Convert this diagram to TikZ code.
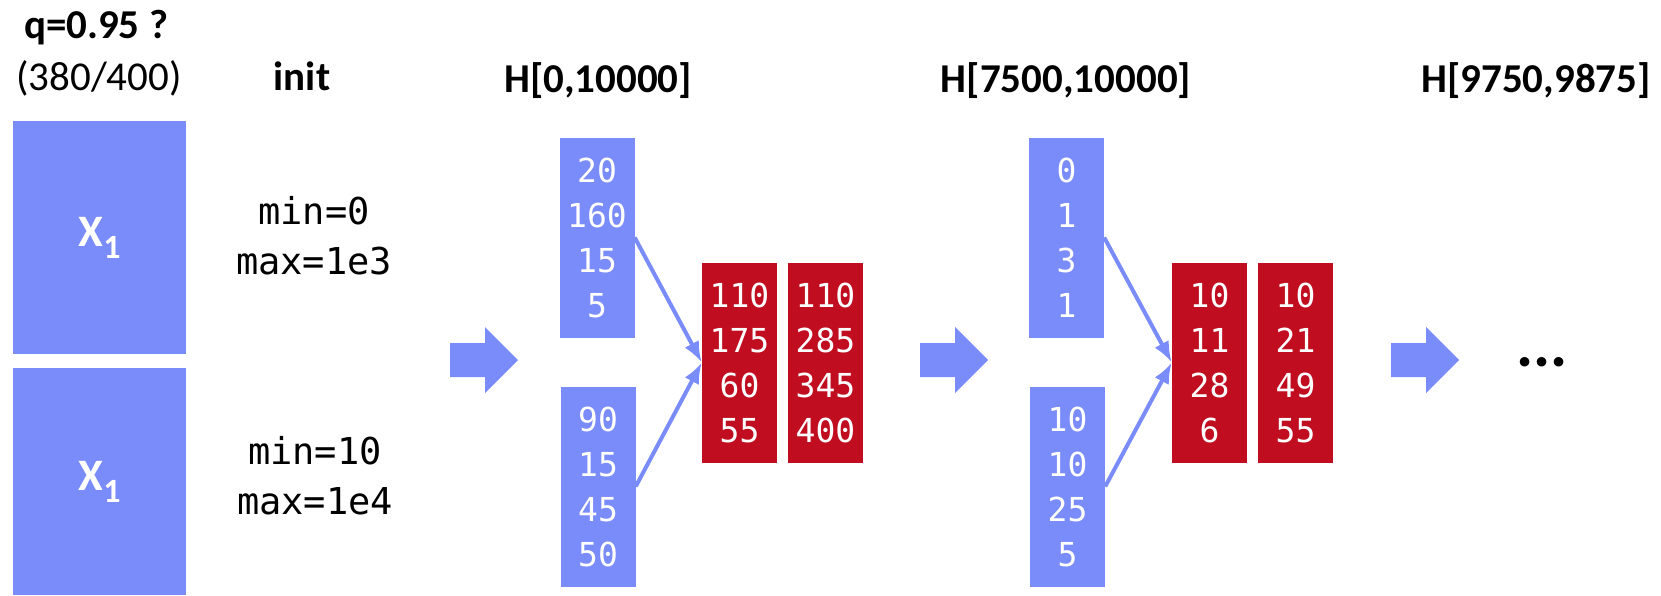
\documentclass[tikz,border=0pt]{standalone}
\usepackage{fontspec}
\setmainfont{Carlito}
\newfontfamily\codefont[RawFeature=+zero]{DejaVu Sans Mono}
\usetikzlibrary{arrows.meta}
\definecolor{cellblue}{RGB}{122,139,250}
\definecolor{cellred}{RGB}{192,14,32}

\begin{document}
\begin{tikzpicture}[x=1pt,y=-1pt,>={Latex[length=21pt,width=16pt]},
  colhead/.style={font=\bfseries\fontsize{41}{49}\selectfont,anchor=base,inner sep=0},
  feat/.style={fill=cellblue,text=white,minimum width=173pt,inner sep=0,
    font=\bfseries\fontsize{45}{45}\selectfont},
  limits/.style={align=center,inner sep=0,font=\codefont\fontsize{37}{50}\selectfont},
  bin/.style={fill=cellblue,text=white,minimum width=75pt,minimum height=200pt,
    inner sep=0,align=center,font=\codefont\fontsize{33}{45}\selectfont},
  cum/.style={bin,fill=cellred},
  merge/.style={->,cellblue,line width=4pt}]
\useasboundingbox (0,0) rectangle (1661,595);

% column headers
\node[colhead] (qtitle) at (96,38) {q=0.95 ?};
\node[colhead,font=\fontsize{41}{49}\selectfont] (qrank) at (99,90) {(380/400)};
\node[colhead] (init) at (302,90) {init};
\node[colhead] (h1) at (598,92) {H[0,10000]};
\node[colhead] (h2) at (1066,92) {H[7500,10000]};
\node[colhead] (h3) at (1536,92) {H[9750,9875]};

% the two feature blocks and their ranges
\node[feat,minimum height=233pt] (xa) at (99.5,237.5) {X\raisebox{-12pt}{\fontsize{34}{34}\selectfont 1}};
\node[feat,minimum height=227pt] (xb) at (99.5,481.5) {X\raisebox{-12pt}{\fontsize{34}{34}\selectfont 1}};
\node[limits] (ra) at (314,236) {min=0\\max=1e3};
\node[limits] (rb) at (315,476) {min=10\\max=1e4};

% big arrows between the rounds
\foreach \ax in {450,920,1391}
  \fill[cellblue,shift={(\ax,0)}] (0,343) -- (35,343) -- (35,327) -- (68,360)
    -- (35,393) -- (35,377) -- (0,377) -- cycle;

% round 1
\node[bin] (hi1) at (597,237.5) {20\\160\\15\\5};
\node[bin] (lo1) at (598,486.5) {90\\15\\45\\50};
\node[cum] (sum1) at (739.5,362.5) {110\\175\\60\\55};
\node[cum] (acc1) at (825.5,362.5) {110\\285\\345\\400};
\draw[merge] (hi1.east) -- (sum1.west);
\draw[merge] (lo1.east) -- (sum1.west);

% round 2
\node[bin] (hi2) at (1066.5,237.5) {0\\1\\3\\1};
\node[bin] (lo2) at (1067.5,486.5) {10\\10\\25\\5};
\node[cum] (sum2) at (1209.5,362.5) {10\\11\\28\\6};
\node[cum] (acc2) at (1295.5,362.5) {10\\21\\49\\55};
\draw[merge] (hi2.east) -- (sum2.west);
\draw[merge] (lo2.east) -- (sum2.west);

\node[colhead,font=\bfseries\fontsize{64}{64}\selectfont] (more) at (1542,366) {...};
\end{tikzpicture}
\end{document}
